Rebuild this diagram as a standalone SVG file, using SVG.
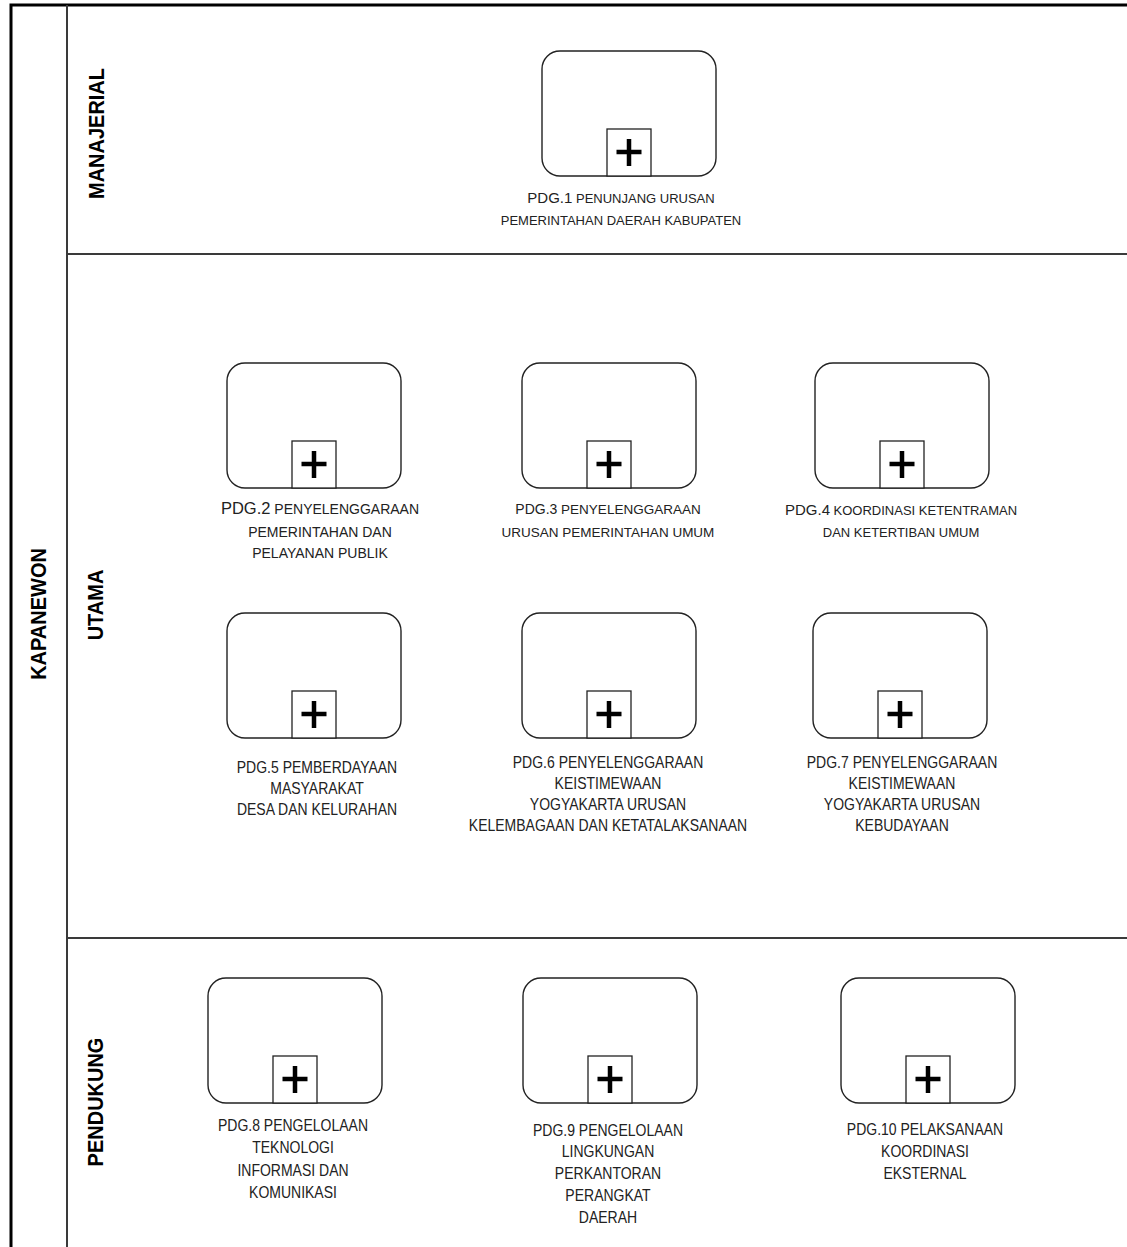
<svg xmlns="http://www.w3.org/2000/svg" width="1127" height="1247" viewBox="0 0 1127 1247">
<style>
.frame{fill:none;stroke:#000;stroke-width:3}
.lane{fill:none;stroke:#3a3a3a;stroke-width:2}
.task{fill:#fff;stroke:#222;stroke-width:1.4}
.mk{fill:#fff;stroke:#222;stroke-width:1.3}
.plus{stroke:#000;stroke-width:4.5;fill:none}
.hdr{font-family:"Liberation Sans",Arial,sans-serif;font-weight:bold;font-size:20px;fill:#000;text-anchor:middle}
.lbl{font-family:"Liberation Sans",Arial,sans-serif;font-size:14px;fill:#222;text-anchor:middle}
.lbm{font-family:"Liberation Sans",Arial,sans-serif;font-size:13px;fill:#222;text-anchor:middle}
.big{font-size:15px}
</style>
<defs>
<g id="task">
<rect class="task" x="0" y="0" width="174" height="125" rx="18" ry="18"/>
<rect class="mk" x="65" y="78" width="44" height="47"/>
<path class="plus" d="M74.5 101H99.5M87 88V115"/>
</g>
</defs>
<g id="pool">
<rect class="frame" x="11" y="5" width="1200" height="1300"/>
<line class="lane" x1="67" y1="5" x2="67" y2="1247"/>
<line class="lane" x1="67" y1="254" x2="1127" y2="254"/>
<line class="lane" x1="67" y1="938" x2="1127" y2="938"/>
<text class="hdr" transform="translate(46,614) rotate(-90) scale(1,1.12)">KAPANEWON</text>
<text class="hdr" transform="translate(104,133.5) rotate(-90) scale(1,1.12)">MANAJERIAL</text>
<text class="hdr" transform="translate(103,605) rotate(-90) scale(1,1.12)">UTAMA</text>
<text class="hdr" transform="translate(103,1102) rotate(-90) scale(1,1.12)">PENDUKUNG</text>
</g>
<g id="connectors"></g>
<g id="pdg1">
<use href="#task" x="542" y="51"/>
<text class="lbm" x="621" y="203"><tspan class="big">PDG.1</tspan> PENUNJANG URUSAN<tspan x="621" y="225">PEMERINTAHAN DAERAH KABUPATEN</tspan></text>
</g>
<g id="pdg2">
<use href="#task" x="227" y="363"/>
<text class="lbm" style="font-size:14px" x="320" y="514"><tspan style="font-size:16.5px">PDG.2</tspan> PENYELENGGARAAN<tspan x="320" y="537">PEMERINTAHAN DAN</tspan><tspan x="320" y="558">PELAYANAN PUBLIK</tspan></text>
</g>
<g id="pdg3">
<use href="#task" x="522" y="363"/>
<text class="lbm" style="font-size:13.5px" x="608" y="514"><tspan style="font-size:14px">PDG.3</tspan> PENYELENGGARAAN<tspan x="608" y="537">URUSAN PEMERINTAHAN UMUM</tspan></text>
</g>
<g id="pdg4">
<use href="#task" x="815" y="363"/>
<text class="lbm" x="901" y="515"><tspan class="big">PDG.4</tspan> KOORDINASI KETENTRAMAN<tspan x="901" y="537">DAN KETERTIBAN UMUM</tspan></text>
</g>
<g id="pdg5">
<use href="#task" x="227" y="613"/>
<text class="lbl" transform="translate(317,773) scale(1,1.15)">PDG.5 PEMBERDAYAAN<tspan x="0" dy="18.3">MASYARAKAT</tspan><tspan x="0" dy="18.3">DESA DAN KELURAHAN</tspan></text>
</g>
<g id="pdg6">
<use href="#task" x="522" y="613"/>
<text class="lbl" transform="translate(608,768) scale(1,1.15)">PDG.6 PENYELENGGARAAN<tspan x="0" dy="18.4">KEISTIMEWAAN</tspan><tspan x="0" dy="18.4">YOGYAKARTA URUSAN</tspan><tspan x="0" dy="18.4">KELEMBAGAAN DAN KETATALAKSANAAN</tspan></text>
</g>
<g id="pdg7">
<use href="#task" x="813" y="613"/>
<text class="lbl" transform="translate(902,768) scale(1,1.15)">PDG.7 PENYELENGGARAAN<tspan x="0" dy="18.4">KEISTIMEWAAN</tspan><tspan x="0" dy="18.4">YOGYAKARTA URUSAN</tspan><tspan x="0" dy="18.4">KEBUDAYAAN</tspan></text>
</g>
<g id="pdg8">
<use href="#task" x="208" y="978"/>
<text class="lbl" transform="translate(293,1131) scale(1,1.15)">PDG.8 PENGELOLAAN<tspan x="0" dy="19.4">TEKNOLOGI</tspan><tspan x="0" dy="19.4">INFORMASI DAN</tspan><tspan x="0" dy="19.4">KOMUNIKASI</tspan></text>
</g>
<g id="pdg9">
<use href="#task" x="523" y="978"/>
<text class="lbl" transform="translate(608,1135.5) scale(1,1.15)">PDG.9 PENGELOLAAN<tspan x="0" dy="19">LINGKUNGAN</tspan><tspan x="0" dy="19">PERKANTORAN</tspan><tspan x="0" dy="19">PERANGKAT</tspan><tspan x="0" dy="19">DAERAH</tspan></text>
</g>
<g id="pdg10">
<use href="#task" x="841" y="978"/>
<text class="lbl" transform="translate(925,1135) scale(1,1.15)">PDG.10 PELAKSANAAN<tspan x="0" dy="19.1">KOORDINASI</tspan><tspan x="0" dy="19.1">EKSTERNAL</tspan></text>
</g>
</svg>
